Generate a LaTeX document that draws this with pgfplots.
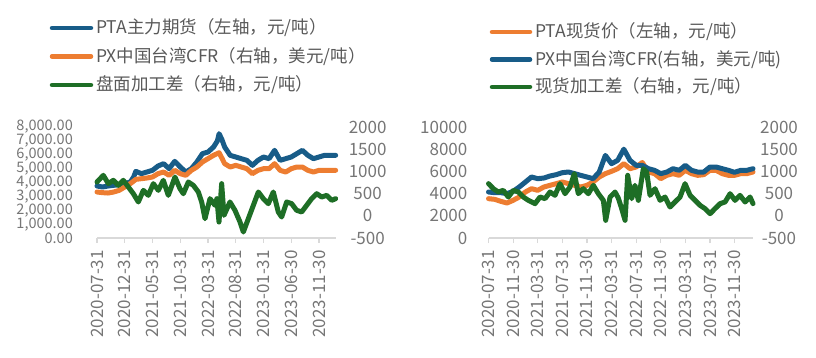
\documentclass[border=0pt]{standalone}
\usepackage{fontspec}
\setmainfont{Noto Sans CJK SC}
\usepackage{pgfplots}
\pgfplotsset{compat=1.18}
\definecolor{cblue}{RGB}{24,92,136}
\definecolor{corange}{RGB}{237,125,49}
\definecolor{cgreen}{RGB}{30,110,38}
\definecolor{ctick}{RGB}{118,118,118}
\definecolor{clegend}{RGB}{89,89,89}
\definecolor{caxis}{RGB}{217,217,217}
\pgfplotsset{
 base/.style={scale only axis, height=111bp, clip=false, xmin=0, xmax=43,
   scaled y ticks=false,
   font=\fontsize{17bp}{20bp}\selectfont, /pgf/number format/assume math mode=true,
   ticklabel style={text=ctick, inner sep=0pt},
   every axis plot/.append style={line width=5bp, line join=round, line cap=round, mark=none},
 },
 leftax/.style={base, axis y line*=left, axis x line*=bottom,
   y axis line style={draw=none}, ytick style={draw=none},
   x axis line style={draw=caxis, line width=1.2bp, -}, xtick style={draw=caxis, line width=1.2bp},
   tick align=outside, major tick length=5bp,
   xticklabel style={rotate=90, anchor=east}, yticklabel style={anchor=east},
   xticklabel shift=7bp},
 rightax/.style={base, axis y line*=right, hide x axis,
   y axis line style={draw=none}, ytick style={draw=none},
   ymin=-500, ymax=2000, ytick={-500,0,...,2000},
   yticklabels={-500,0,500,1000,1500,2000}, yticklabel style={anchor=center}},
}
\begin{document}
\begin{tikzpicture}
\path[use as bounding box] (0,0) rectangle (816bp,358bp);
% ---------- left panel ----------
\begin{axis}[leftax, at={(97bp,120bp)}, anchor=south west, width=238.65bp,
  ymin=0, ymax=8000, ytick={0,1000,...,8000},
  yticklabels={0.00,{1,000.00},{2,000.00},{3,000.00},{4,000.00},{5,000.00},{6,000.00},{7,000.00},{8,000.00}},
  yticklabel style={font=\fontsize{14.5bp}{16bp}\selectfont},
  yticklabel shift=19bp,
  xtick={0,5,...,40},
  xticklabels={2020-07-31,2020-12-31,2021-05-31,2021-10-31,2022-03-31,2022-08-31,2023-01-31,2023-06-30,2023-11-30}]
\addplot[cblue] coordinates {(0,3748)(1,3676)(2,3748)(3,3796)(4,3844)(5,3916)(6,4036)(6.6,4400)(7,4805)(8,4637)(9,4757)(10,4877)(11,5189)(12,5357)(13,4997)(14,5525)(15,5117)(16,4757)(17,4997)(18,5477)(19,6078)(20,6198)(21,6558)(21.7,7000)(22,7519)(22.5,7100)(23,6558)(24,5958)(25,5838)(26,5717)(27,5597)(28,5237)(29,5597)(30,5838)(31,5717)(32,6318)(33,5597)(34,5717)(35,5838)(36,6078)(37,6318)(38,5958)(39,5717)(40,5838)(41,5958)(42,5958)(43,5958)};
\end{axis}
\begin{axis}[rightax, at={(97bp,120bp)}, anchor=south west, width=238.65bp, yticklabel shift=32bp]
\addplot[corange] coordinates {(0,536)(1,521)(2,513)(3,536)(4,573)(5,649)(6,724)(7,821)(8,836)(9,851)(10,874)(11,949)(12,986)(13,911)(14,1024)(15,949)(16,911)(17,1024)(18,1099)(19,1212)(20,1287)(21,1362)(22,1420)(22.5,1300)(23,1174)(24,1099)(25,1136)(26,1099)(27,1061)(28,949)(29,1024)(30,1061)(31,1061)(32,1174)(33,1024)(34,986)(35,1061)(36,1099)(37,1099)(38,1024)(39,986)(40,1024)(41,1024)(42,1024)(43,1024)};
\addplot[cgreen] coordinates {(0,761)(1.14,911)(2.04,724)(2.94,799)(3.84,686)(4.74,799)(5.65,649)(6.55,498)(7.45,311)(8.35,573)(9.25,461)(10.15,724)(11.05,573)(11.95,799)(12.85,461)(14.05,874)(14.95,611)(15.56,498)(16.46,761)(17.36,686)(18.26,536)(18.86,311)(19.46,-65)(20.36,386)(21.26,236)(21.6,386)(21.98,-140)(22.46,724)(22.88,10)(23.96,311)(24.86,123)(25.77,-140)(26.37,-365)(27.27,-65)(28.17,236)(29.07,536)(29.97,386)(30.87,273)(31.77,536)(32.67,86)(33.27,-27)(34.17,311)(35.08,273)(35.98,123)(36.88,86)(37.78,236)(38.68,386)(39.58,498)(40.48,423)(41.38,461)(42.28,348)(43,386)};
\end{axis}
% ---------- right panel ----------
\begin{axis}[leftax, at={(488.5bp,120bp)}, anchor=south west, width=264.5bp,
  ymin=0, ymax=10000, ytick={0,2000,...,10000},
  yticklabels={0,2000,4000,6000,8000,10000},
  yticklabel shift=16bp,
  xtick={0,4,...,40},
  xticklabels={2020-07-31,2020-11-30,2021-03-31,2021-07-31,2021-11-30,2022-03-31,2022-07-31,2022-11-30,2023-03-31,2023-07-31,2023-11-30}]
\addplot[corange] coordinates {(0,3544)(1,3484)(2,3303)(3,3153)(4,3393)(5,3694)(6,4144)(7,4444)(8,4294)(9,4595)(10,4745)(11,4895)(12,5045)(13,4895)(14,4745)(15,4595)(16,4745)(17,5045)(18,5495)(19,5796)(20,6006)(21,6246)(22,6697)(23,6246)(24,6396)(25,6800)(26,5946)(27,5796)(28,5345)(29,5646)(30,5796)(31,5646)(32,6096)(33,5796)(34,5646)(35,5706)(36,6096)(37,6096)(38,5796)(39,5646)(40,5646)(41,5796)(42,5796)(43,5946)};
\end{axis}
\begin{axis}[rightax, at={(488.5bp,120bp)}, anchor=south west, width=264.5bp, yticklabel shift=26bp]
\addplot[cblue] coordinates {(0,536)(1,521)(2,521)(3,498)(4,551)(5,649)(6,761)(7,874)(8,836)(9,851)(10,896)(11,926)(12,971)(13,986)(14,949)(15,911)(16,874)(17,836)(18,986)(19,1360)(20,1174)(21,1249)(22,1500)(23,1249)(24,1136)(25,1136)(26,1061)(27,1024)(28,949)(29,986)(30,1061)(31,1024)(32,1136)(33,1024)(34,986)(35,986)(36,1099)(37,1099)(38,1061)(39,1024)(40,979)(41,1024)(42,1024)(43,1061)};
\addplot[cgreen] coordinates {(0,724)(0.79,611)(1.6,536)(2.41,573)(3.22,423)(4.04,573)(4.85,536)(5.66,423)(6.48,348)(7.56,273)(8.37,423)(9.19,386)(10.0,536)(10.81,461)(11.62,724)(12.44,498)(13.25,649)(13.96,949)(14.6,498)(15.42,611)(16.23,498)(17.05,686)(17.86,498)(18.67,348)(19.05,-102)(19.76,423)(20.57,536)(21.1,400)(21.65,161)(22.2,-102)(22.63,911)(23.28,386)(23.81,686)(24.36,348)(25.17,1061)(25.71,986)(26.26,461)(27.07,611)(27.89,348)(28.7,423)(29.51,198)(30.32,311)(31.14,423)(31.95,724)(32.77,461)(33.58,348)(34.39,236)(35.2,161)(36.02,48)(36.83,161)(37.65,273)(38.46,311)(39.27,498)(40.08,348)(40.89,461)(41.71,311)(42.52,423)(43,273)};
\end{axis}
% ---------- legends ----------
\begin{scope}[every node/.style={anchor=west, inner sep=0pt, text=clegend, font=\fontsize{17.5bp}{20bp}\selectfont}]
\draw[cblue, line width=4.5bp, line cap=round] (52bp,330bp) -- (91bp,330bp);
\node at (96bp,330bp) {PTA主力期货（左轴，元/吨）};
\draw[corange, line width=4.5bp, line cap=round] (52bp,301.5bp) -- (91bp,301.5bp);
\node at (96bp,301.5bp) {PX中国台湾CFR（右轴，美元/吨）};
\draw[cgreen, line width=4.5bp, line cap=round] (52bp,273bp) -- (91bp,273bp);
\node at (96bp,273bp) {盘面加工差（右轴，元/吨）};
\draw[corange, line width=4.5bp, line cap=round] (492bp,326bp) -- (530bp,326bp);
\node at (535bp,326bp) {PTA现货价（左轴，元/吨）};
\draw[cblue, line width=4.5bp, line cap=round] (492bp,298.5bp) -- (530bp,298.5bp);
\node at (535bp,298.5bp) {PX中国台湾CFR(右轴，美元/吨)};
\draw[cgreen, line width=4.5bp, line cap=round] (492bp,271bp) -- (530bp,271bp);
\node at (535bp,271bp) {现货加工差（右轴，元/吨）};
\end{scope}
\end{tikzpicture}
\end{document}
